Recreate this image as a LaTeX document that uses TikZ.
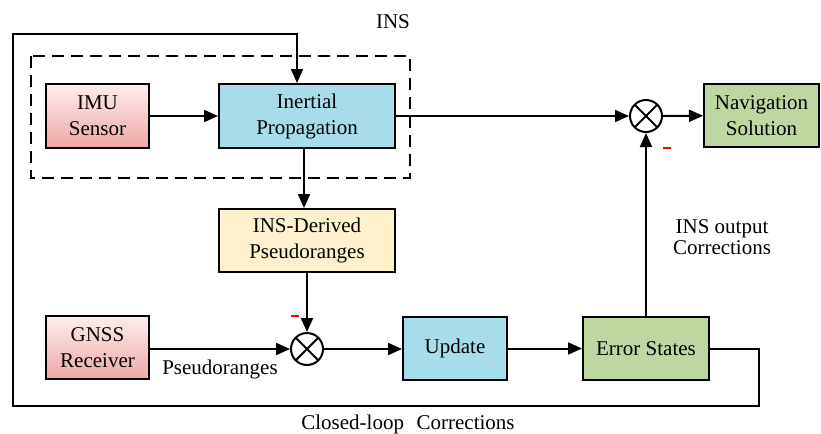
\documentclass[tikz,border=0pt]{standalone}
\usepackage{fontspec}
\setmainfont{Liberation Serif}
\usetikzlibrary{arrows.meta,positioning}

\definecolor{pinktop}{HTML}{FCEDED}
\definecolor{pinkbot}{HTML}{F1A7A6}
\definecolor{propblue}{HTML}{A6DDE9}
\definecolor{derivyel}{HTML}{FFF1CC}
\definecolor{errgreen}{HTML}{BED6A0}

\begin{document}
\begin{tikzpicture}[x=0.5pt,y=-0.5pt,
  font=\fontsize{10.5}{13}\selectfont,
  blk/.style={draw=black,line width=1pt,align=center,inner sep=0pt},
  sensorblk/.style={blk,top color=pinktop,bottom color=pinkbot},
  sumnode/.style={draw=black,line width=1pt,circle,minimum size=16pt,inner sep=0pt,
    path picture={\draw[line width=1pt] (path picture bounding box.north west) -- (path picture bounding box.south east)
      (path picture bounding box.north east) -- (path picture bounding box.south west);}},
  arr/.style={line width=1pt,-{Triangle[length=7pt,width=6pt]}},
  ln/.style={line width=1pt},
  minus/.style={inner sep=0pt,text=red}
]
\useasboundingbox (0,0) rectangle (821,434);

% INS group
\draw[ln,dash pattern=on 6pt off 3.5pt] (31,56) rectangle (410,178);
\node (inslabel) at (393,22) {INS};

\node[sensorblk,minimum width=51.5pt,minimum height=32pt] (imu) at (97.5,116) {IMU\\Sensor};
\node[blk,fill=propblue,minimum width=88pt,minimum height=32pt] (prop) at (307,116) {Inertial\\Propagation};
\node[blk,fill=derivyel,minimum width=88pt,minimum height=31.5pt] (derived) at (307,240.5) {INS-Derived\\Pseudoranges};
\node[sensorblk,minimum width=51.5pt,minimum height=31.5pt] (gnss) at (97.5,347.5) {GNSS\\Receiver};
\node[sumnode] (sumA) at (307,349) {};
\node[blk,fill=propblue,minimum width=52pt,minimum height=31.5pt] (update) at (455,348.5) {Update};
\node[blk,fill=errgreen,minimum width=63pt,minimum height=31.5pt] (err) at (646,348.5) {Error States};
\node[sumnode] (sumB) at (646,116) {};
\node[blk,fill=errgreen,minimum width=57.5pt,minimum height=31.5pt] (nav) at (761.5,115.5) {Navigation\\Solution};

% signs and labels
\node[minus] (minusA) at (295,316) {\rule{4pt}{1.2pt}};
\node[minus] (minusB) at (667,148) {\rule{4pt}{1.2pt}};
\node (pr) at (220,369) {Pseudoranges};
\node[align=center,font=\fontsize{10.5}{8.5}\selectfont] (insout) at (722,237) {INS output\\Corrections};
\node (closed) at (408,424) {Closed-loop\hspace{0.6em}Corrections};

% signal flow
\draw[arr] (imu) -- (prop);
\draw[arr] (prop) -- (sumB);
\draw[arr] (sumB) -- (nav);
\draw[arr] ([xshift=-1.5pt]prop.south) -- ([xshift=-1.5pt]derived.north);
\draw[arr] (derived) -- (sumA);
\draw[arr] (gnss.east |- sumA) -- (sumA);
\draw[arr] (sumA) -- (sumA -| update.west);
\draw[arr] (update) -- (err);
\draw[arr] (err) -- (sumB);

% closed loop
\draw[arr] (err.east) -| (759,406) -| (13,34) -| ([xshift=-5pt]prop.north);
\end{tikzpicture}
\end{document}
